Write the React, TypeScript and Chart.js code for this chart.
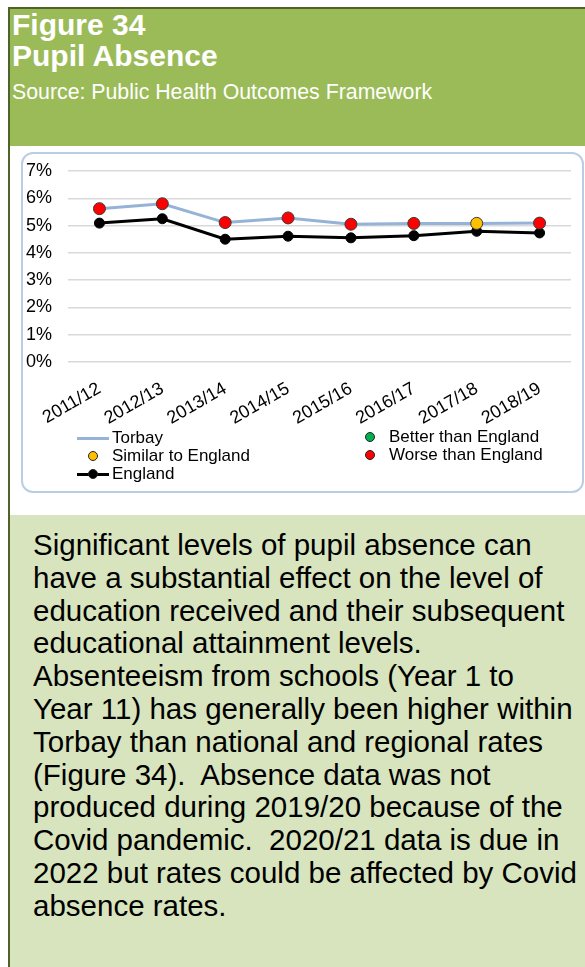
import React, { useEffect, useRef } from "react";
import { Chart, registerables } from "chart.js";

Chart.register(...registerables);

const categories = ["2011/12", "2012/13", "2013/14", "2014/15", "2015/16", "2016/17", "2017/18", "2018/19"];
const torbayValues = [5.62, 5.8, 5.11, 5.28, 5.05, 5.08, 5.08, 5.09];
const englandValues = [5.09, 5.25, 4.5, 4.61, 4.55, 4.63, 4.79, 4.73];
const torbayComparison = ["worse", "worse", "worse", "worse", "worse", "worse", "similar", "worse"];
const yTickValues = [0, 1, 2, 3, 4, 5, 6, 7];

const comparisonColours: Record<string, string> = {
  better: "#00b050",
  similar: "#ffc000",
  worse: "#ff0000",
};

const bodyLines = [
  "Significant levels of pupil absence can",
  "have a substantial effect on the level of",
  "education received and their subsequent",
  "educational attainment levels.",
  "Absenteeism from schools (Year 1 to",
  "Year 11) has generally been higher within",
  "Torbay than national and regional rates",
  "(Figure 34).  Absence data was not",
  "produced during 2019/20 because of the",
  "Covid pandemic.  2020/21 data is due in",
  "2022 but rates could be affected by Covid",
  "absence rates.",
];

const FONT = '"Liberation Sans", Arial, Helvetica, sans-serif';
const TORBAY_LINE = "#95b3d7";

function LineChart() {
  const ref = useRef<HTMLCanvasElement | null>(null);
  useEffect(() => {
    if (!ref.current) return;
    const chart = new Chart(ref.current, {
      type: "line",
      data: {
        labels: categories,
        datasets: [
          {
            label: "Torbay",
            data: torbayValues,
            borderColor: TORBAY_LINE,
            borderWidth: 3,
            pointRadius: 6,
            pointBackgroundColor: torbayComparison.map((c) => comparisonColours[c]),
            pointBorderColor: "#3a3a3a",
            pointBorderWidth: 1,
            tension: 0,
            order: 0,
          },
          {
            label: "England",
            data: englandValues,
            borderColor: "#000000",
            borderWidth: 3,
            pointRadius: 5,
            pointBackgroundColor: "#000000",
            pointBorderColor: "#000000",
            pointBorderWidth: 1,
            tension: 0,
            order: 1,
          },
        ],
      },
      options: {
        animation: false,
        responsive: false,
        maintainAspectRatio: false,
        layout: { padding: { top: 15, right: 11, bottom: 0, left: 0 } },
        plugins: { legend: { display: false }, tooltip: { enabled: false } },
        scales: {
          x: {
            type: "category",
            offset: true,
            grid: { display: false, drawTicks: false },
            border: { display: false },
            ticks: {
              font: { family: FONT, size: 18 },
              color: "#000",
              minRotation: 30,
              maxRotation: 30,
              padding: 16,
              autoSkip: false,
            },
            afterFit: (s: any) => {
              s.height = 69;
            },
          },
          y: {
            min: 0,
            max: 7,
            grid: {
              color: "#d9d9d9",
              lineWidth: 1.5,
              drawTicks: true,
              tickLength: 13,
              tickColor: "rgba(0,0,0,0)",
            },
            border: { display: false },
            ticks: {
              font: { family: FONT, size: 18 },
              color: "#000",
              padding: 3,
              callback: (v: any) => `${v}%`,
            },
            afterBuildTicks: (s: any) => {
              s.ticks = yTickValues.map((v) => ({ value: v }));
            },
            afterFit: (s: any) => {
              s.width = 44;
            },
          },
        },
      },
    } as any);
    return () => chart.destroy();
  }, []);
  return (
    <canvas
      ref={ref}
      width={558}
      height={275}
      style={{ position: "absolute", left: 24, top: 156, width: 558, height: 275 }}
    />
  );
}

function Dot({ x, y, color }: { x: number; y: number; color: string }) {
  return (
    <div
      style={{
        position: "absolute",
        left: x - 5,
        top: y - 5,
        width: 10,
        height: 10,
        borderRadius: "50%",
        background: color,
        border: "1px solid #222",
        boxSizing: "border-box",
      }}
    />
  );
}

function Seg({ x, y, w, color }: { x: number; y: number; w: number; color: string }) {
  return <div style={{ position: "absolute", left: x, top: y - 1.5, width: w, height: 3, background: color }} />;
}

function Label({ x, y, text }: { x: number; y: number; text: string }) {
  return (
    <div
      style={{
        position: "absolute",
        left: x,
        top: y - 10,
        height: 20,
        lineHeight: "20px",
        fontSize: 17,
        color: "#000",
        whiteSpace: "nowrap",
      }}
    >
      {text}
    </div>
  );
}

export default function App() {
  return (
    <div
      style={{
        position: "absolute",
        left: 0,
        top: 0,
        width: 585,
        height: 967,
        overflow: "hidden",
        background: "#ffffff",
        fontFamily: FONT,
      }}
    >
      <div
        style={{
          position: "absolute",
          left: 8,
          top: 7,
          width: 577,
          height: 960,
          borderLeft: "2px solid #4f6228",
          borderTop: "2px solid #4f6228",
          boxSizing: "border-box",
        }}
      />
      <div style={{ position: "absolute", left: 10, top: 9, width: 575, height: 137, background: "#9bbb59" }} />
      <div
        style={{
          position: "absolute",
          left: 12,
          top: 9,
          fontSize: 30,
          lineHeight: "32px",
          fontWeight: "bold",
          color: "#fff",
          whiteSpace: "nowrap",
        }}
      >
        Figure 34
      </div>
      <div
        style={{
          position: "absolute",
          left: 12,
          top: 40,
          fontSize: 30,
          lineHeight: "32px",
          fontWeight: "bold",
          color: "#fff",
          whiteSpace: "nowrap",
        }}
      >
        Pupil Absence
      </div>
      <div
        style={{
          position: "absolute",
          left: 12,
          top: 80,
          fontSize: 21.3,
          lineHeight: "24px",
          color: "#fff",
          whiteSpace: "nowrap",
        }}
      >
        Source: Public Health Outcomes Framework
      </div>

      <div
        style={{
          position: "absolute",
          left: 21,
          top: 152,
          width: 563,
          height: 341,
          border: "2px solid #b9cde5",
          borderRadius: 12,
          boxSizing: "border-box",
        }}
      />
      <LineChart />

      <Seg x={77} y={438} w={32} color={TORBAY_LINE} />
      <Label x={112} y={438} text="Torbay" />
      <Dot x={93} y={456} color={comparisonColours.similar} />
      <Label x={112} y={456} text="Similar to England" />
      <Seg x={77} y={474} w={32} color="#000" />
      <Dot x={93} y={474} color="#000" />
      <Label x={112} y={474} text="England" />
      <Dot x={370} y={437} color={comparisonColours.better} />
      <Label x={389} y={437} text="Better than England" />
      <Dot x={370} y={455} color={comparisonColours.worse} />
      <Label x={389} y={455} text="Worse than England" />

      <div style={{ position: "absolute", left: 10, top: 515, width: 575, height: 452, background: "#d7e4bd" }} />
      <div style={{ position: "absolute", left: 33, top: 529, fontSize: 29.5, lineHeight: "32.8px", color: "#000" }}>
        {bodyLines.map((l, i) => (
          <div key={i} style={{ whiteSpace: "pre" }}>
            {l}
          </div>
        ))}
      </div>
    </div>
  );
}
